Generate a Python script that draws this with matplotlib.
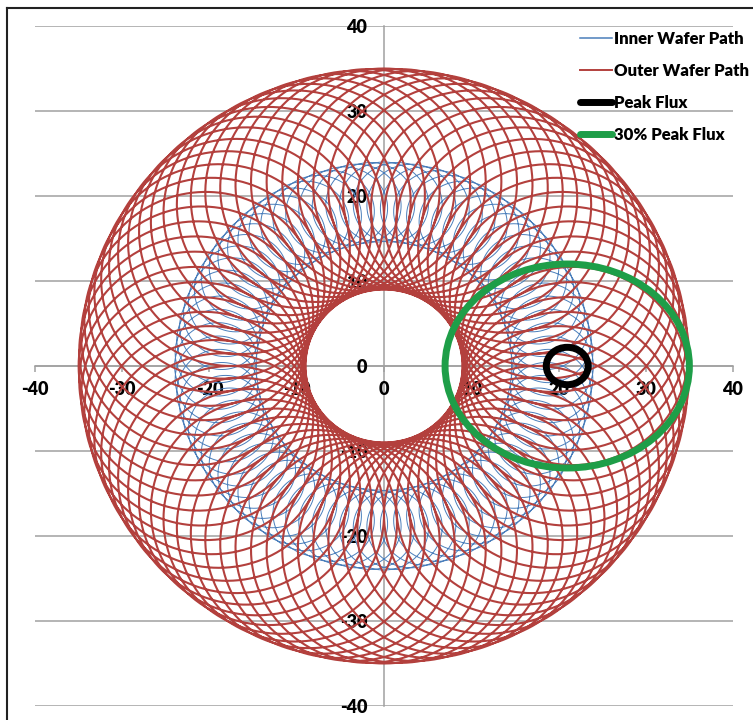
import numpy as np
import matplotlib
matplotlib.use('Agg')
import matplotlib.pyplot as plt
from matplotlib.lines import Line2D
from matplotlib.patches import Ellipse

plt.rcParams['font.family'] = ['Lato', 'DejaVu Sans']
plt.rcParams['font.weight'] = 'bold'
plt.rcParams['axes.unicode_minus'] = False

# wafer path geometry: platen radius R, wafer point radius r, loops per turn
inner_path = {'R': 19.3, 'r': 4.7}
outer_path = {'R': 22.0, 'r': 13.0}
loops_per_turn = 76

# flux contours (center x, center y, half width, half height)
peak_flux = (21.0, 0.0, 2.4, 2.2)
flux_30pct = (21.0, 0.0, 14.0, 12.0)

ticks = [-40, -30, -20, -10, 0, 10, 20, 30, 40]
labels = ['Inner Wafer Path', 'Outer Wafer Path', 'Peak Flux', '30% Peak Flux']

blue = '#4A7EBB'
red = '#B3403D'
green = '#1E9E48'
grid_col = '#A0A0A0'


def wafer_path(R, r, n=60000):
    t = np.linspace(0, 2 * np.pi, n)
    k = loops_per_turn + 1
    x = R * np.cos(t) + r * np.cos(k * t)
    y = R * np.sin(t) + r * np.sin(k * t)
    return x, y


fig = plt.figure(figsize=(7.53, 7.2), dpi=100)
ax = fig.add_axes([35 / 753, 14 / 720, 698 / 753, 680 / 720])
ax.set_xlim(-40, 40)
ax.set_ylim(-40, 40)

for v in ticks:
    ax.plot([-40, 40], [v, v], color=grid_col, lw=1.1, zorder=0)

xi, yi = wafer_path(**inner_path)
ax.plot(xi, yi, color=blue, lw=0.7, zorder=2)
xo, yo = wafer_path(**outer_path)
ax.plot(xo, yo, color=red, lw=1.5, zorder=3)

cx, cy, w, h = flux_30pct
ax.add_patch(Ellipse((cx, cy), 2 * w, 2 * h, fill=False, ec=green, lw=5, zorder=4))
cx, cy, w, h = peak_flux
ax.add_patch(Ellipse((cx, cy), 2 * w, 2 * h, fill=False, ec='black', lw=5, zorder=5))

for s in ['top', 'right']:
    ax.spines[s].set_visible(False)
ax.spines['left'].set_position('zero')
ax.spines['bottom'].set_position('zero')
ax.spines['left'].set_color(grid_col)
ax.spines['bottom'].set_color(grid_col)
ax.spines['left'].set_linewidth(1.1)
ax.spines['bottom'].set_linewidth(1.1)
ax.spines['left'].set_zorder(1)
ax.spines['bottom'].set_zorder(1)

ax.set_xticks(ticks)
ax.set_yticks(ticks)
ax.tick_params(axis='x', direction='out', length=4, width=1.1, color=grid_col,
               pad=7, labelsize=13)
ax.tick_params(axis='y', length=0, pad=12, labelsize=13)
for lab in ax.get_xticklabels() + ax.get_yticklabels():
    lab.set_fontweight('heavy')
ax.patch.set_visible(False)

handles = [
    Line2D([], [], color=blue, lw=1.1),
    Line2D([], [], color=red, lw=1.4),
    Line2D([], [], color='black', lw=5, solid_capstyle='round'),
    Line2D([], [], color=green, lw=5, solid_capstyle='round'),
]
fig.legend(handles, labels, loc='upper left', bbox_to_anchor=(580 / 753, 1 - 31 / 720),
           frameon=False, prop={'size': 12, 'weight': 'heavy'}, handlelength=1.9,
           handletextpad=0.15, labelspacing=0.95, borderpad=0, borderaxespad=0)

# chart border
fig.add_artist(Line2D([7 / 753, 1], [1 - 8 / 720, 1 - 8 / 720], color='#222222', lw=1.5))
fig.add_artist(Line2D([7 / 753, 7 / 753], [0, 1 - 8 / 720], color='#222222', lw=1.5))

fig.savefig('out.png', dpi=100)
